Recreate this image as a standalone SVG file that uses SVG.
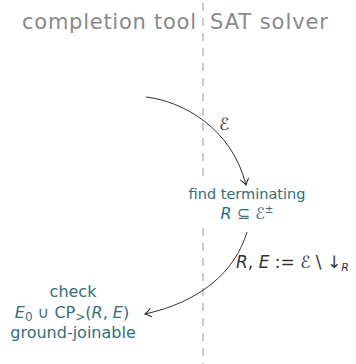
<svg xmlns="http://www.w3.org/2000/svg" width="356" height="364" viewBox="0 0 356 364">
<style>
.title{font-family:"DejaVu Sans",sans-serif;font-size:21px;fill:#8a8a8a}
.node{font-family:"DejaVu Sans",sans-serif;font-size:14.5px;fill:#336e7b;text-anchor:middle}
.big{font-size:16px}
.math{font-family:"DejaVu Sans",sans-serif;font-size:16px}
.lbl{font-family:"DejaVu Sans",sans-serif;font-size:17px;fill:#333}
.it{font-style:italic}
.edge{fill:none;stroke:#333;stroke-width:1}
</style>
<defs>
<marker id="arr" viewBox="-8 -6 10 12" refX="0" refY="0" markerWidth="10" markerHeight="12" markerUnits="userSpaceOnUse" orient="auto">
<path d="M-6,-4 Q-2,-1 0,0 Q-2,1 -6,4" fill="none" stroke="#333" stroke-width="1.1" stroke-linecap="round"/>
</marker>
</defs>
<g id="divider">
<line x1="203" y1="3" x2="203" y2="364" stroke="#aaa" stroke-width="1.2" stroke-dasharray="8 7"/>
</g>
<g id="headers">
<text class="title" x="22" y="29" textLength="174">completion tool</text>
<text class="title" x="210" y="29" textLength="118">SAT solver</text>
</g>
<g id="find">
<rect x="190" y="182" width="114" height="42" fill="#fff"/>
<text class="node" x="247" y="199">find terminating</text>
<text class="node math" x="247" y="219"><tspan class="it">R</tspan> ⊆ <tspan class="it">ℰ</tspan><tspan font-size="10" dy="-6">±</tspan></text>
</g>
<g id="check">
<text class="node big" x="73" y="297">check</text>
<text class="node math" x="72" y="318" font-size="18"><tspan class="it">E</tspan><tspan font-size="12" dy="3">0</tspan><tspan dy="-3"> ∪ CP</tspan><tspan font-size="12" dy="3">&gt;</tspan><tspan dy="-3">(</tspan><tspan class="it">R</tspan>, <tspan class="it">E</tspan>)</text>
<text class="node big" x="73" y="338">ground-joinable</text>
</g>
<g id="connectors">
<path class="edge" d="M146,97 C182,101 232,128 246,185" marker-end="url(#arr)"/>
<text class="lbl" x="219" y="130"><tspan class="it">ℰ</tspan></text>
<path class="edge" d="M247,232 C235,272 200,302 145,314" marker-end="url(#arr)"/>
<text class="lbl" x="236" y="268"><tspan class="it">R</tspan>, <tspan class="it">E</tspan> := <tspan class="it">ℰ</tspan> \ ↓<tspan class="it" font-size="11" dy="3">R</tspan></text>
</g>
</svg>
